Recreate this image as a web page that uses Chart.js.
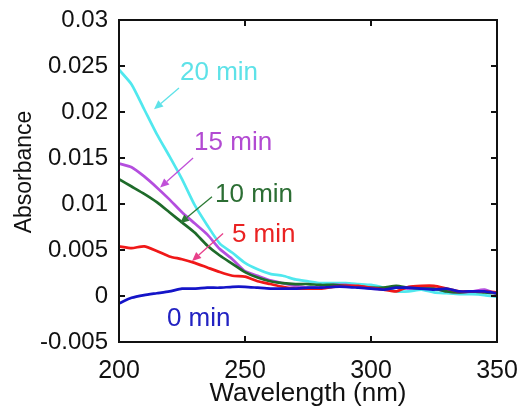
<!DOCTYPE html>
<html>
<head>
<meta charset="utf-8">
<script src="https://cdn.jsdelivr.net/npm/chart.js@4.4.0/dist/chart.umd.min.js"></script>
<style>
  body { margin: 0; background: #fff; }
  canvas { display: block; }
</style>
</head>
<body>
<canvas id="spectra" width="520" height="406"></canvas>
<script>
const FONT = '"Liberation Sans", Arial, sans-serif';

// wavelength grid (nm) and absorbance per reaction time
const wavelengths = [200, 205, 210, 215, 220, 225, 230, 235, 240, 245, 250, 255, 260, 265, 270, 275,
                     280, 285, 290, 295, 300, 305, 310, 315, 320, 325, 330, 335, 340, 345, 350];
const abs0min  = [-0.0008, -0.0002, 0.0001, 0.0003, 0.0005, 0.0008, 0.0008, 0.0009, 0.0009, 0.0010, 0.0010,
                  0.0009, 0.0008, 0.0008, 0.0008, 0.0009, 0.0009, 0.0010, 0.0010, 0.0009, 0.0008, 0.0007,
                  0.0009, 0.0009, 0.0008, 0.0007, 0.0008, 0.0005, 0.0005, 0.0005, 0.0003];
const abs5min  = [0.0054, 0.0052, 0.0054, 0.0049, 0.0043, 0.0040, 0.0036, 0.0031, 0.0026, 0.0022, 0.0021,
                  0.0016, 0.0013, 0.0010, 0.0008, 0.0008, 0.0008, 0.0010, 0.0011, 0.0011, 0.0009, 0.0007,
                  0.0005, 0.0010, 0.0011, 0.0011, 0.0008, 0.0005, 0.0005, 0.0005, 0.0004];
const abs10min = [0.0127, 0.0119, 0.0111, 0.0102, 0.0091, 0.0080, 0.0069, 0.0055, 0.0044, 0.0035, 0.0026,
                  0.0020, 0.0016, 0.0014, 0.0013, 0.0013, 0.0012, 0.0012, 0.0011, 0.0010, 0.0009, 0.0009,
                  0.0011, 0.0009, 0.0008, 0.0008, 0.0005, 0.0004, 0.0005, 0.0004, 0.0003];
const abs15min = [0.0144, 0.0140, 0.0130, 0.0118, 0.0105, 0.0091, 0.0079, 0.0067, 0.0051, 0.0040, 0.0027,
                  0.0022, 0.0017, 0.0014, 0.0011, 0.0009, 0.0010, 0.0012, 0.0012, 0.0010, 0.0008, 0.0008,
                  0.0009, 0.0008, 0.0009, 0.0008, 0.0005, 0.0004, 0.0005, 0.0007, 0.0002];
const abs20min = [0.0246, 0.0230, 0.0203, 0.0176, 0.0152, 0.0127, 0.0099, 0.0077, 0.0057, 0.0047, 0.0036,
                  0.0029, 0.0024, 0.0022, 0.0018, 0.0016, 0.0014, 0.0014, 0.0014, 0.0013, 0.0012, 0.0009,
                  0.0005, 0.0005, 0.0007, 0.0004, 0.0003, 0.0002, 0.0002, 0.0001, -0.0001];

const xTicks = [200, 250, 300, 350];
const yTicks = [-0.005, 0, 0.005, 0.01, 0.015, 0.02, 0.025, 0.03];

// text labels: [text, colour, wavelength, absorbance] (left end of baseline)
const labels = [
  ['20 min', '#5ee2e8', 224.2, 0.0235],
  ['15 min', '#b24ad2', 229.8, 0.0159],
  ['10 min', '#2c6e34', 238.1, 0.0102],
  ['5 min',  '#ea2222', 244.8, 0.0059],
  ['0 min',  '#2222c2', 219.0, -0.00325]
];
// arrows: [colour, from wavelength, from absorbance, to wavelength, to absorbance]
const arrows = [
  ['#5ee2e8', 223.8, 0.0226, 213.9, 0.0203],
  ['#c050d8', 229.4, 0.0150, 216.3, 0.0118],
  ['#2c7a34', 236.9, 0.0108, 224.2, 0.0079],
  ['#e8408a', 241.3, 0.0068, 229.0, 0.0038]
];

const series = [
  { data: abs0min,  color: '#1414c8' },
  { data: abs5min,  color: '#f01818' },
  { data: abs10min, color: '#1e6b2a' },
  { data: abs15min, color: '#b44ede' },
  { data: abs20min, color: '#50e8ee' }
];

const frame = {
  id: 'frame',
  afterDatasetsDraw(chart) {
    const { ctx, chartArea: a, scales: { x, y } } = chart;
    ctx.save();
    ctx.strokeStyle = '#111';
    ctx.lineWidth = 2;
    ctx.strokeRect(a.left, a.top, a.right - a.left, a.bottom - a.top);
    ctx.beginPath();
    xTicks.forEach(v => {
      const px = x.getPixelForValue(v);
      ctx.moveTo(px, a.bottom); ctx.lineTo(px, a.bottom - 6);
      ctx.moveTo(px, a.top); ctx.lineTo(px, a.top + 6);
    });
    yTicks.forEach(v => {
      const py = y.getPixelForValue(v);
      ctx.moveTo(a.left, py); ctx.lineTo(a.left + 6, py);
      ctx.moveTo(a.right, py); ctx.lineTo(a.right - 6, py);
    });
    ctx.stroke();

    // axis titles
    ctx.fillStyle = '#111';
    ctx.font = '26px ' + FONT;
    ctx.textAlign = 'center';
    ctx.textBaseline = 'alphabetic';
    ctx.fillText('Wavelength (nm)', (a.left + a.right) / 2, 401);
    ctx.save();
    ctx.translate(31, 172);
    ctx.rotate(-Math.PI / 2);
    ctx.font = '23px ' + FONT;
    ctx.fillText('Absorbance', 0, 0);
    ctx.restore();

    // arrows
    arrows.forEach(([c, x0, y0, x1, y1]) => {
      const sx = x.getPixelForValue(x0), sy = y.getPixelForValue(y0);
      const ex = x.getPixelForValue(x1), ey = y.getPixelForValue(y1);
      const ang = Math.atan2(ey - sy, ex - sx);
      const hl = 9, hw = 4;
      ctx.strokeStyle = c;
      ctx.fillStyle = c;
      ctx.lineWidth = 1.3;
      ctx.beginPath();
      ctx.moveTo(sx, sy);
      ctx.lineTo(ex - Math.cos(ang) * hl, ey - Math.sin(ang) * hl);
      ctx.stroke();
      ctx.beginPath();
      ctx.moveTo(ex, ey);
      ctx.lineTo(ex - Math.cos(ang) * hl - Math.sin(ang) * hw, ey - Math.sin(ang) * hl + Math.cos(ang) * hw);
      ctx.lineTo(ex - Math.cos(ang) * hl + Math.sin(ang) * hw, ey - Math.sin(ang) * hl - Math.cos(ang) * hw);
      ctx.closePath();
      ctx.fill();
    });

    // series labels
    ctx.font = '26px ' + FONT;
    ctx.textAlign = 'left';
    labels.forEach(([t, c, wx, wy]) => {
      ctx.fillStyle = c;
      ctx.fillText(t, x.getPixelForValue(wx), y.getPixelForValue(wy));
    });
    ctx.restore();
  }
};

new Chart(document.getElementById('spectra'), {
  type: 'line',
  data: {
    datasets: series.map(s => ({
      data: wavelengths.map((w, i) => ({ x: w, y: s.data[i] })),
      borderColor: s.color,
      borderWidth: 2.7,
      pointRadius: 0,
      tension: 0.2,
      fill: false
    }))
  },
  options: {
    responsive: false,
    animation: false,
    events: [],
    layout: { padding: { left: 0, right: 23, top: 20, bottom: 0 } },
    plugins: { legend: { display: false }, tooltip: { enabled: false } },
    scales: {
      x: {
        type: 'linear',
        min: 200,
        max: 350,
        afterBuildTicks: scale => { scale.ticks = xTicks.map(v => ({ value: v })); },
        afterFit: scale => {
          scale.height = 64;
          // end labels may hang past the plot edge
          scale.paddingLeft = 0;
          scale.paddingRight = 0;
        },
        grid: { display: false, drawTicks: false },
        border: { display: false },
        ticks: {
          padding: 14,
          color: '#111',
          maxRotation: 0,
          font: { size: 25, family: FONT },
          callback: v => String(v)
        }
      },
      y: {
        min: -0.005,
        max: 0.03,
        afterBuildTicks: scale => { scale.ticks = yTicks.map(v => ({ value: v })); },
        afterFit: scale => {
          scale.width = 119;
          scale.paddingTop = 0;
          scale.paddingBottom = 0;
        },
        grid: { display: false, drawTicks: false },
        border: { display: false },
        ticks: {
          padding: 11,
          color: '#111',
          font: { size: 24, family: FONT },
          callback: v => String(+v.toFixed(3))
        }
      }
    }
  },
  plugins: [frame]
});
</script>
</body>
</html>
